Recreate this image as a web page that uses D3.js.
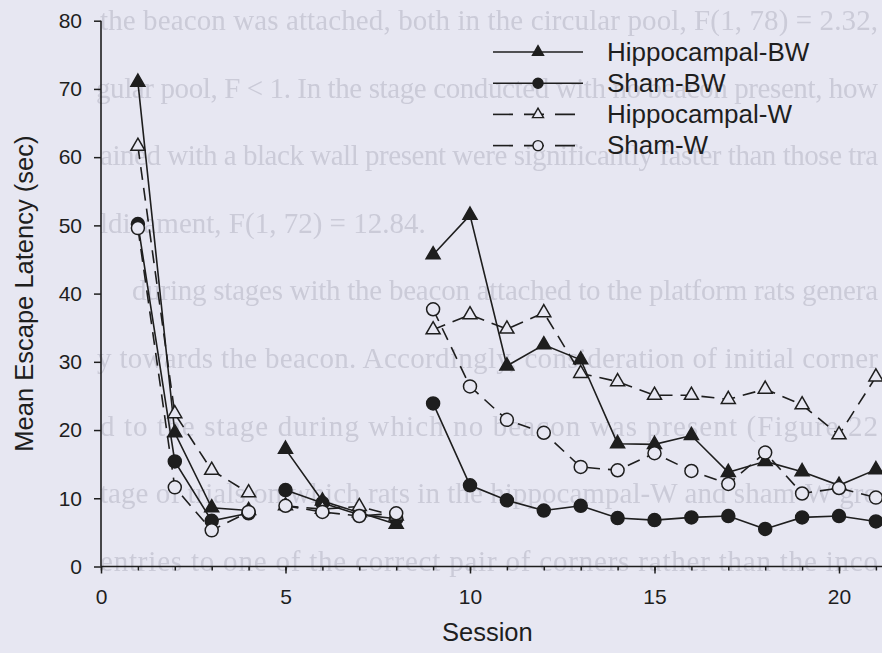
<!DOCTYPE html>
<html>
<head>
<meta charset="utf-8">
<script src="https://cdn.jsdelivr.net/npm/d3@7"></script>
<style>
  html, body { margin: 0; padding: 0; background: #e7e7f2; }
  svg { display: block; }
</style>
</head>
<body>
<svg id="chart" width="882" height="653"></svg>
<script>
// Sessions and the stages they belong to (lines break between stages)
const sessions = d3.range(1, 22);
const stages = [[1, 4], [5, 8], [9, 21]];

// Mean escape latency (sec) per session, one array per group
const hippocampalBW = [71.0, 19.6, 8.6, 8.2, 17.2, 9.6, 7.9, 6.2, 45.7, 51.5, 29.4, 32.5, 30.3, 18.0, 17.9, 19.2, 13.8, 15.4, 13.9, 11.9, 14.2];
const shamBW        = [50.2, 15.4, 6.7, 7.8, 11.2, 9.3, 7.6, 7.0, 23.9, 11.9, 9.7, 8.2, 8.9, 7.1, 6.8, 7.2, 7.4, 5.5, 7.2, 7.4, 6.6];
const hippocampalW  = [61.6, 22.4, 14.1, 10.8, 8.9, 8.4, 8.8, 7.4, 34.7, 36.9, 34.8, 37.2, 28.3, 27.1, 25.1, 25.1, 24.5, 26.0, 23.7, 19.3, 27.8];
const shamW         = [49.6, 11.6, 5.3, 8.0, 8.9, 8.0, 7.4, 7.8, 37.7, 26.4, 21.5, 19.6, 14.6, 14.1, 16.6, 14.0, 12.1, 16.7, 10.7, 11.5, 10.1];

const seriesNames = ["Hippocampal-BW", "Sham-BW", "Hippocampal-W", "Sham-W"];

// Axis ticks
const xMajorTicks = [0, 5, 10, 15, 20];
const xMinorTicks = d3.range(0, 23);
const yTicks = [0, 10, 20, 30, 40, 50, 60, 70, 80];

// Page text showing through behind the figure
const pageLines = [
  "the beacon was attached, both in the circular pool, F(1, 78) = 2.32,",
  "gular pool, F < 1. In the stage conducted with no beacon present, how",
  "ained with a black wall present were significantly faster than those tra",
  "ldicament, F(1, 72) = 12.84.",
  "during stages with the beacon attached to the platform rats genera",
  "y towards the beacon. Accordingly, consideration of initial corner",
  "d to the stage during which no beacon was present (Figure 22",
  "tage of trials on which rats in the hippocampal-W and sham-W gro",
  "entries to one of the correct pair of corners rather than the inco"
];

const BG = "#e7e7f2";
const INK = "#1e1e1e";

const svg = d3.select("#chart");

svg.append("rect").attr("width", 882).attr("height", 653).attr("fill", BG);

// faint bleed-through text, justified lines
const defs = svg.append("defs");
defs.append("filter").attr("id", "soft")
  .append("feGaussianBlur").attr("stdDeviation", 0.7);

const pageIndent = [100, 96, 100, 100, 132, 97, 100, 100, 100];
const pageRight  = [878, 878, 878, null, 878, 878, 878, 878, 878];
svg.append("g")
  .attr("filter", "url(#soft)")
  .selectAll("text")
  .data(pageLines)
  .join("text")
  .attr("x", (d, i) => pageIndent[i])
  .attr("y", (d, i) => 30 + i * 67.6)
  .attr("font-family", "'Liberation Serif', 'DejaVu Serif', serif")
  .attr("font-size", 29)
  .attr("fill", "#cbcbd8")
  .attr("textLength", (d, i) => pageRight[i] ? pageRight[i] - pageIndent[i] : null)
  .attr("lengthAdjust", "spacing")
  .text(d => d);

// Scales
const x = d3.scaleLinear().domain([0, 22]).range([101, 101 + 22 * 36.9]);
const y = d3.scaleLinear().domain([0, 80]).range([566.5, 20.7]);

const axisFont = "'Liberation Sans', Arial, sans-serif";

// Y axis
const yAxis = svg.append("g").attr("transform", `translate(${x(0)},0)`)
  .call(d3.axisLeft(y).tickValues(yTicks).tickSize(7).tickPadding(12).tickFormat(d3.format("d")));
yAxis.select(".domain").attr("stroke", INK).attr("stroke-width", 1.6).attr("d", `M0,${y(80)}V${y(0)}`);
yAxis.selectAll(".tick line").attr("stroke", INK).attr("stroke-width", 1.5);
yAxis.selectAll(".tick text").attr("font-family", axisFont).attr("font-size", 21).attr("fill", INK);

// X axis: minor ticks every session, labelled major ticks every five
const xAxisMinor = svg.append("g").attr("transform", `translate(0,${y(0)})`)
  .call(d3.axisBottom(x).tickValues(xMinorTicks).tickSize(4).tickFormat(""));
xAxisMinor.select(".domain").attr("stroke", INK).attr("stroke-width", 1.6).attr("d", `M${x(0)},0H882`);
xAxisMinor.selectAll(".tick line").attr("stroke", INK).attr("stroke-width", 1.5);

const xAxis = svg.append("g").attr("transform", `translate(0,${y(0)})`)
  .call(d3.axisBottom(x).tickValues(xMajorTicks).tickSize(7).tickPadding(16).tickFormat(d3.format("d")));
xAxis.select(".domain").remove();
xAxis.selectAll(".tick line").attr("stroke", INK).attr("stroke-width", 1.5);
xAxis.selectAll(".tick text").attr("font-family", axisFont).attr("font-size", 21).attr("fill", INK);

// Axis titles
svg.append("text")
  .attr("transform", `translate(33,${y(40)}) rotate(-90)`)
  .attr("text-anchor", "middle")
  .attr("font-family", axisFont).attr("font-size", 25.5).attr("fill", INK)
  .text("Mean Escape Latency (sec)");

svg.append("text")
  .attr("x", x(10.47)).attr("y", 641)
  .attr("text-anchor", "middle")
  .attr("font-family", axisFont).attr("font-size", 25.5).attr("fill", INK)
  .text("Session");

// Marker shapes
function trianglePath(s) {
  const h = s / Math.sqrt(3);
  return `M0,${-h}L${s / 2},${h / 2}L${-s / 2},${h / 2}Z`;
}
function circlePath(r) {
  const p = d3.path();
  p.moveTo(r, 0);
  p.arc(0, 0, r, 0, 2 * Math.PI);
  p.closePath();
  return p.toString();
}

const series = [
  { name: seriesNames[0], values: hippocampalBW, shape: "triangle", filled: true,  dash: null },
  { name: seriesNames[1], values: shamBW,        shape: "circle",   filled: true,  dash: null },
  { name: seriesNames[2], values: hippocampalW,  shape: "triangle", filled: false, dash: "13,8" },
  { name: seriesNames[3], values: shamW,         shape: "circle",   filled: false, dash: "13,8" }
];

const line = d3.line().x(d => x(d.s)).y(d => y(d.v));

// lines first, then markers on top (open markers last)
const linesG = svg.append("g");
series.forEach(sr => {
  stages.forEach(([a, b]) => {
    const pts = sessions.map((s, i) => ({ s, v: sr.values[i] })).filter(p => p.s >= a && p.s <= b);
    linesG.append("path")
      .attr("d", line(pts))
      .attr("fill", "none")
      .attr("stroke", INK)
      .attr("stroke-width", 1.6)
      .attr("stroke-dasharray", sr.dash);
  });
});

const marksG = svg.append("g");
series.forEach(sr => {
  marksG.selectAll(null)
    .data(sessions.map((s, i) => ({ s, v: sr.values[i] })))
    .join("path")
    .attr("transform", d => `translate(${x(d.s)},${y(d.v)})`)
    .attr("d", sr.shape === "triangle" ? trianglePath(14) : circlePath(6.5))
    .attr("fill", sr.filled ? INK : BG)
    .attr("stroke", INK)
    .attr("stroke-width", 1.5);
});

// Legend
const legend = svg.append("g");
series.forEach((sr, i) => {
  const ly = 52 + i * 31.2;
  legend.append("line")
    .attr("x1", 493).attr("x2", 583).attr("y1", ly).attr("y2", ly)
    .attr("stroke", INK).attr("stroke-width", 1.6)
    .attr("stroke-dasharray", sr.dash ? "20,11" : null);
  legend.append("path")
    .attr("transform", `translate(538,${ly})`)
    .attr("d", sr.shape === "triangle" ? trianglePath(11) : circlePath(5))
    .attr("fill", sr.filled ? INK : BG)
    .attr("stroke", INK).attr("stroke-width", 1.4);
  legend.append("text")
    .attr("x", 607).attr("y", ly + 8.5)
    .attr("font-family", axisFont).attr("font-size", 26).attr("fill", INK)
    .text(sr.name);
});
</script>
</body>
</html>
